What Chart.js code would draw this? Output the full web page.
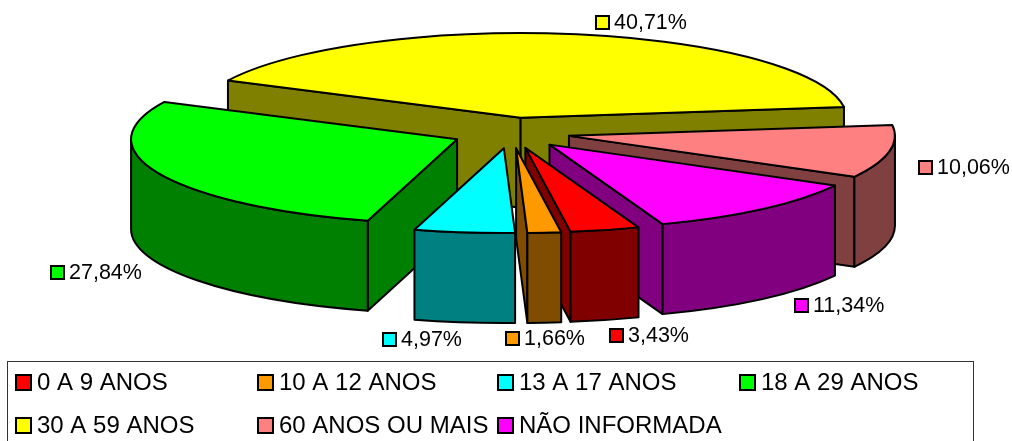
<!DOCTYPE html>
<html><head><meta charset="utf-8">
<style>html,body{margin:0;padding:0;background:#fff}#w{width:1012px;height:441px;position:relative}canvas{display:block}</style>
<script src="https://cdn.jsdelivr.net/npm/chart.js@4"></script>
</head><body><div id="w"><canvas id="c" width="1012" height="441"></canvas></div>
<script>
const categories = ['0 A 9 ANOS','10 A 12 ANOS','13 A 17 ANOS','18 A 29 ANOS','30 A 59 ANOS','60 ANOS OU MAIS','NÃO INFORMADA'];
const shares = [3.43,1.66,4.97,27.84,40.71,10.06,11.34];
const percentLabels = ['3,43%','1,66%','4,97%','27,84%','40,71%','10,06%','11,34%'];
const topColors = ['#FF0000','#FF9900','#00FFFF','#00FF00','#FFFF00','#FF8080','#FF00FF'];
const sideColors = ['#800000','#804D00','#008080','#008000','#808000','#804040','#800080'];
const labelAnchors = [[609,328],[505,331],[382,332],[50,265],[595,15],[918,160],[794,298]];

const LABEL_FONT = '21.5px "Liberation Sans", Arial, sans-serif';
const LEGEND_FONT = '24px "Liberation Sans", Arial, sans-serif';
const SQUASH = 0.26, DEPTH = 90, SCREEN_CX = 511, SCREEN_CY = 133;

function swatch(ctx,x,y,s,color){
  ctx.fillStyle = color; ctx.strokeStyle = '#000'; ctx.lineWidth = 2;
  ctx.fillRect(x,y,s,s); ctx.strokeRect(x,y,s,s);
}
const pie3d = {
  id:'pie3d',
  beforeDatasetDraw(chart,args){
    const ctx = chart.ctx;
    const arcs = chart.getDatasetMeta(args.index).data.map((el,i)=>{
      const p = el.getProps(['x','y','startAngle','endAngle','outerRadius'],true);
      const mid = (p.startAngle+p.endAngle)/2, off = el.options.offset;
      return {i, a0:p.startAngle, a1:p.endAngle, mid, R:p.outerRadius,
        x: SCREEN_CX + (p.x-chart.chartArea.left-chart.chartArea.width/2) + Math.cos(mid)*off,
        y: SCREEN_CY + Math.sin(mid)*off*SQUASH,
        top: el.options.backgroundColor, side: sideColors[i]};
    }).sort((a,b)=>Math.sin(a.mid)-Math.sin(b.mid));
    ctx.save();
    ctx.lineWidth = 2; ctx.strokeStyle = '#000'; ctx.lineJoin='round';
    const paint = (fill)=>{ ctx.fillStyle = fill; ctx.fill(); ctx.stroke(); };
    for(const s of arcs){
      const ry = s.R*SQUASH;
      const pt = a=>[s.x+Math.cos(a)*s.R, s.y+Math.sin(a)*ry];
      const wall = a=>{
        const [px,py]=pt(a);
        ctx.beginPath(); ctx.moveTo(s.x,s.y); ctx.lineTo(px,py);
        ctx.lineTo(px,py+DEPTH); ctx.lineTo(s.x,s.y+DEPTH); ctx.closePath(); paint(s.side);
      };
      if(Math.cos(s.a0)<0) wall(s.a0);
      if(Math.cos(s.a1)>0) wall(s.a1);
      for(let n=-1;n<=2;n++){
        const lo=Math.max(s.a0,2*Math.PI*n), hi=Math.min(s.a1,Math.PI+2*Math.PI*n);
        if(hi>lo){
          ctx.beginPath();
          ctx.ellipse(s.x,s.y,s.R,ry,0,lo,hi,false);
          ctx.ellipse(s.x,s.y+DEPTH,s.R,ry,0,hi,lo,true);
          ctx.closePath(); paint(s.side);
        }
      }
      ctx.beginPath(); ctx.moveTo(s.x,s.y);
      ctx.ellipse(s.x,s.y,s.R,ry,0,s.a0,s.a1,false);
      ctx.closePath(); paint(s.top);
    }
    ctx.restore();
    return false;
  },
  afterDraw(chart){
    const ctx = chart.ctx;
    ctx.save();
    ctx.textBaseline='middle'; ctx.textAlign='left';
    ctx.font = LABEL_FONT;
    percentLabels.forEach((t,i)=>{
      const [x,y]=labelAnchors[i];
      swatch(ctx,x+1,y+1,13,topColors[i]);
      ctx.fillStyle='#000'; ctx.fillText(t,x+19,y+8.5);
    });
    ctx.strokeStyle='#333'; ctx.lineWidth=1;
    ctx.strokeRect(7.5,361.5,966,80);
    ctx.font = LEGEND_FONT;
    const swatchX=[16,258,498,740], textX=[37,279,519,761];
    categories.forEach((t,i)=>{
      const c=i%4, y=i<4?375:418;
      swatch(ctx,swatchX[c],y,15,topColors[i]);
      ctx.fillStyle='#000'; ctx.fillText(t,textX[c],y+8.5);
    });
    ctx.restore();
  }
};
new Chart(document.getElementById('c'),{
  type:'pie',
  data:{labels:categories,datasets:[{data:shares,backgroundColor:topColors,borderWidth:0,offset:59}]},
  options:{
    responsive:false,animation:false,
    radius:326,rotation:159.7,
    layout:{padding:0},
    plugins:{legend:{display:false},tooltip:{enabled:false}}
  },
  plugins:[pie3d]
});
</script></body></html>
